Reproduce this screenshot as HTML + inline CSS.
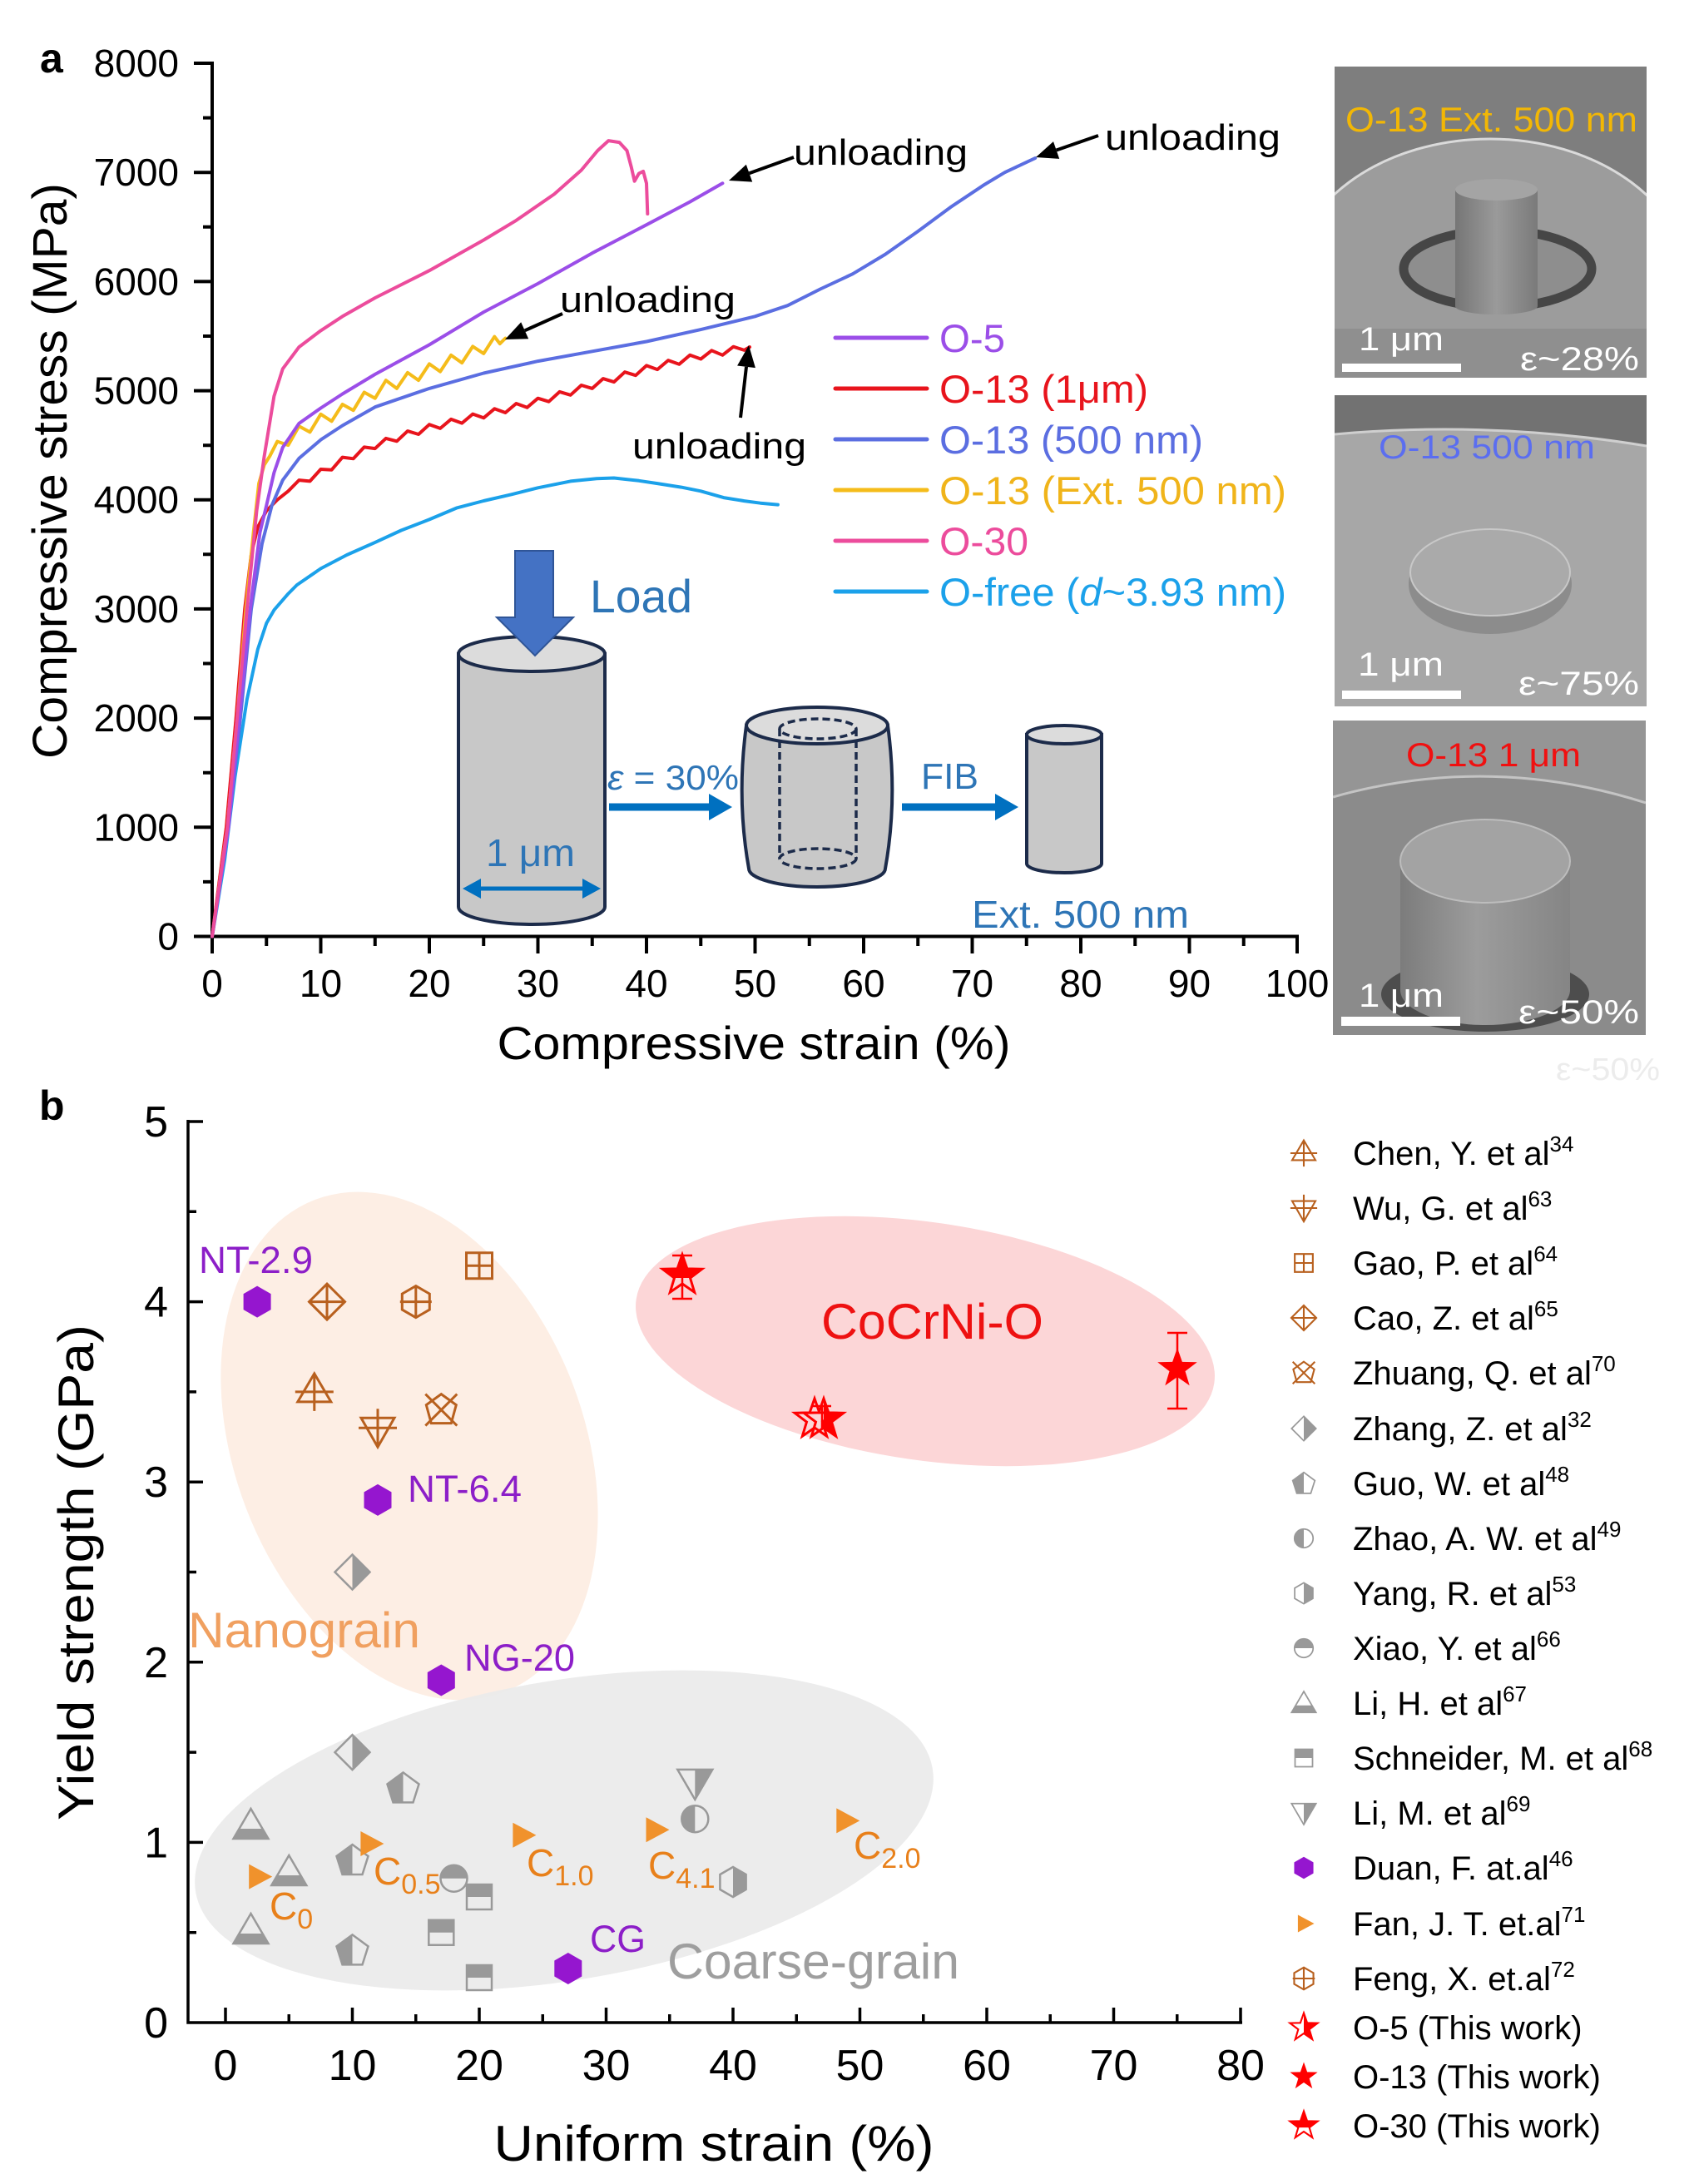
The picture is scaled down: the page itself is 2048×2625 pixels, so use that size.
<!DOCTYPE html>
<html><head><meta charset="utf-8"><style>
html,body{margin:0;padding:0;background:#fff;}
svg{display:block;}
text{font-family:"Liberation Sans",Arial,sans-serif;}
</style></head><body>
<svg xmlns="http://www.w3.org/2000/svg" width="2048" height="2625" viewBox="0 0 2048 2625">
<defs>
<g id="m-chen" fill="none" stroke="#b8601e" stroke-width="3"><path d="M0,-22L20,12L-20,12Z M0,-22V23 M-23,0H23"/></g>
<g id="m-wu" fill="none" stroke="#b8601e" stroke-width="3"><path d="M-20,-12H20L0,23Z M0,-23V23 M-23,0H23"/></g>
<g id="m-gao" fill="none" stroke="#b8601e" stroke-width="3"><path d="M-15.5,-15.5H15.5V15.5H-15.5Z M0,-15.5V15.5 M-15.5,0H15.5"/></g>
<g id="m-cao" fill="none" stroke="#b8601e" stroke-width="3"><path d="M0,-21.5L21.5,0L0,21.5L-21.5,0Z M0,-21.5V21.5 M-21.5,0H21.5"/></g>
<g id="m-feng" fill="none" stroke="#b8601e" stroke-width="3"><path d="M0,-19L16.5,-9.5V9.5L0,19L-16.5,9.5V-9.5Z M0,-19V19 M-19,0H19"/></g>
<g id="m-zhuang" fill="none" stroke="#b8601e" stroke-width="3"><path d="M0,-19L18,-6L12,16H-12L-18,-6Z M-19,-19L19,19 M19,-19L-19,19"/></g>
<path id="m-duan" d="M0,-19L16.5,-9.5V9.5L0,19L-16.5,9.5V-9.5Z" fill="#9516cf"/>
<g id="m-zhang"><path d="M0,-21L21,0L0,21Z" fill="#999"/><path d="M0,-21L21,0L0,21L-21,0Z" fill="none" stroke="#999" stroke-width="2.5"/></g>
<g id="m-guo"><path d="M0,-19L-19,-5L-12,17H0Z" fill="#999"/><path d="M0,-19L19,-5L12,17H-12L-19,-5Z" fill="none" stroke="#999" stroke-width="2.5"/></g>
<g id="m-zhao"><path d="M0,-16A16,16 0 0 0 0,16Z" fill="#999"/><circle r="16" fill="none" stroke="#999" stroke-width="2.5"/></g>
<g id="m-yang"><path d="M0,-18L15.6,-9V9L0,18Z" fill="#999"/><path d="M0,-18L15.6,-9V9L0,18L-15.6,9V-9Z" fill="none" stroke="#999" stroke-width="2.5"/></g>
<g id="m-xiao"><path d="M-16,0A16,16 0 0 1 16,0Z" fill="#999"/><circle r="16" fill="none" stroke="#999" stroke-width="2.5"/></g>
<g id="m-lih"><path d="M-14,4H14L21,16H-21Z" fill="#999"/><path d="M0,-20L21,16H-21Z" fill="none" stroke="#999" stroke-width="2.5"/></g>
<g id="m-sch"><path d="M-15,-15H15V0H-15Z" fill="#999"/><path d="M-15,-15H15V15H-15Z" fill="none" stroke="#999" stroke-width="2.5"/></g>
<g id="m-lim"><path d="M0,-16H21L0,20Z" fill="#999"/><path d="M-21,-16H21L0,20Z" fill="none" stroke="#999" stroke-width="2.5"/></g>
<path id="m-fan" d="M-13,-15L15,0L-13,15Z" fill="#f0922c"/>
<path id="starp" d="M0,-25L5.88,-8.09L23.78,-7.73L9.51,3.09L14.69,20.23L0,10L-14.69,20.23L-9.51,3.09L-23.78,-7.73L-5.88,-8.09Z"/>
<clipPath id="cliptop"><rect x="-30" y="-30" width="60" height="33"/></clipPath>
<clipPath id="clipright"><rect x="0" y="-30" width="30" height="60"/></clipPath>
<g id="m-o13"><use href="#starp" fill="#ff0000"/></g>
<g id="m-o30"><use href="#starp" fill="#ff0000" clip-path="url(#cliptop)"/><use href="#starp" fill="none" stroke="#ff0000" stroke-width="3"/></g>
<g id="m-o5"><use href="#starp" fill="#ff0000" clip-path="url(#clipright)"/><use href="#starp" fill="none" stroke="#ff0000" stroke-width="3"/></g>
<linearGradient id="pil" x1="0" x2="1" y1="0" y2="0"><stop offset="0" stop-color="#767676"/><stop offset="0.5" stop-color="#9a9a9a"/><stop offset="1" stop-color="#7a7a7a"/></linearGradient>
<linearGradient id="cyl3" x1="0" x2="1" y1="0" y2="0"><stop offset="0" stop-color="#7c7c7c"/><stop offset="0.45" stop-color="#9c9c9c"/><stop offset="1" stop-color="#858585"/></linearGradient>
<clipPath id="c1"><rect x="1604" y="80" width="375" height="374"/></clipPath>
<clipPath id="c2"><rect x="1604" y="475" width="375" height="374"/></clipPath>
<clipPath id="c3"><rect x="1602" y="866" width="376" height="378"/></clipPath>
</defs>

<!-- ================= PANEL A ================= -->
<text x="48" y="87" font-size="50" font-weight="bold">a</text>

<!-- axes -->
<g stroke="#000" stroke-width="4" fill="none">
<path d="M255,74V1127.5 M253,1125.5H1561"/>
<path d="M233,1125.5H255 M233,994.3H255 M233,863.1H255 M233,731.9H255 M233,600.7H255 M233,469.6H255 M233,338.4H255 M233,207.2H255 M233,76H255"/>
<path d="M244,1059.9H255 M244,928.7H255 M244,797.5H255 M244,666.3H255 M244,535.2H255 M244,404H255 M244,272.8H255 M244,141.6H255"/>
<path d="M255,1125.5V1146 M385.5,1125.5V1146 M516,1125.5V1146 M646.5,1125.5V1146 M777,1125.5V1146 M907.5,1125.5V1146 M1038,1125.5V1146 M1168.5,1125.5V1146 M1299,1125.5V1146 M1429.5,1125.5V1146 M1559,1125.5V1146"/>
<path d="M320.25,1125.5V1137 M450.75,1125.5V1137 M581.25,1125.5V1137 M711.75,1125.5V1137 M842.25,1125.5V1137 M972.75,1125.5V1137 M1103.25,1125.5V1137 M1233.75,1125.5V1137 M1364.25,1125.5V1137 M1494.75,1125.5V1137"/>
</g>
<g font-size="46" text-anchor="end">
<text x="215" y="1141.5">0</text>
<text x="215" y="1010.3">1000</text>
<text x="215" y="879.1">2000</text>
<text x="215" y="747.9">3000</text>
<text x="215" y="616.7">4000</text>
<text x="215" y="485.6">5000</text>
<text x="215" y="354.4">6000</text>
<text x="215" y="223.2">7000</text>
<text x="215" y="92">8000</text>
</g>
<g font-size="46" text-anchor="middle">
<text x="255" y="1198">0</text>
<text x="385.5" y="1198">10</text>
<text x="516" y="1198">20</text>
<text x="646.5" y="1198">30</text>
<text x="777" y="1198">40</text>
<text x="907.5" y="1198">50</text>
<text x="1038" y="1198">60</text>
<text x="1168.5" y="1198">70</text>
<text x="1299" y="1198">80</text>
<text x="1429.5" y="1198">90</text>
<text x="1559" y="1198">100</text>
</g>
<text x="906" y="1273" font-size="56" text-anchor="middle" textLength="617" lengthAdjust="spacingAndGlyphs">Compressive strain (%)</text>
<text transform="translate(80,566) rotate(-90)" font-size="58" text-anchor="middle" textLength="692" lengthAdjust="spacingAndGlyphs">Compressive stress (MPa)</text>

<!-- schematic inset -->
<g>
<path d="M551,786V1090A88,21 0 0 0 727,1090V786Z" fill="#c8c8c8" stroke="#1c2b4a" stroke-width="4"/>
<ellipse cx="639" cy="786" rx="88" ry="21" fill="#dcdcdc" stroke="#1c2b4a" stroke-width="4"/>
<path d="M619,662H665V742H689L643,788L597,742H619Z" fill="#4472c4" stroke="#2f5597" stroke-width="2"/>
<text x="709" y="736" font-size="56" fill="#2e75b6" textLength="123" lengthAdjust="spacingAndGlyphs">Load</text>
<text x="584" y="1041" font-size="46" fill="#2e75b6" textLength="107" lengthAdjust="spacingAndGlyphs">1 μm</text>
<path d="M575,1068H703" stroke="#0070c0" stroke-width="5"/>
<path d="M556,1068L578,1056V1080Z M722,1068L700,1056V1080Z" fill="#0070c0"/>
<text x="730" y="949" font-size="42" fill="#2e75b6" textLength="158" lengthAdjust="spacingAndGlyphs"><tspan font-style="italic">ε</tspan> = 30%</text>
<path d="M732,970H855" stroke="#0070c0" stroke-width="9"/>
<path d="M880,970L852,954V986Z" fill="#0070c0"/>
<path d="M897,872Q885,960 900,1044A82,22 0 0 0 1064,1044Q1079,960 1067,872Z" fill="#c8c8c8" stroke="#1c2b4a" stroke-width="4"/>
<ellipse cx="982" cy="872" rx="85" ry="22" fill="#dcdcdc" stroke="#1c2b4a" stroke-width="4"/>
<g fill="none" stroke="#1c2b4a" stroke-width="3.5" stroke-dasharray="9 5">
<ellipse cx="983" cy="876" rx="46" ry="12"/>
<ellipse cx="983" cy="1032" rx="46" ry="12"/>
<path d="M937,876V1032 M1029,876V1032"/>
</g>
<text x="1107" y="948" font-size="44" fill="#2e75b6" textLength="69" lengthAdjust="spacingAndGlyphs">FIB</text>
<path d="M1084,970H1199" stroke="#0070c0" stroke-width="9"/>
<path d="M1224,970L1196,954V986Z" fill="#0070c0"/>
<path d="M1234,883V1038A45,11 0 0 0 1324,1038V883Z" fill="#c8c8c8" stroke="#1c2b4a" stroke-width="4"/>
<ellipse cx="1279" cy="883" rx="45" ry="11" fill="#dcdcdc" stroke="#1c2b4a" stroke-width="4"/>
<text x="1168" y="1115" font-size="46" fill="#2e75b6" textLength="261" lengthAdjust="spacingAndGlyphs">Ext. 500 nm</text>
</g>

<!-- curves -->
<g fill="none" stroke-width="4" stroke-linejoin="round" stroke-linecap="round">
<polyline stroke="#1ba1ea" points="255,1125.5 270,1033.7 282.4,934 296.8,840.8 309.8,780.5 320.3,749 329.4,733.2 346.4,713.6 356.8,703.1 385.5,683.4 416.8,667 450.8,651.9 482.1,637.5 516,624.4 548.6,610.6 581.3,602 615.2,594.2 646.5,586.3 685.7,578.4 717,575.2 737.9,574.5 767.9,577.8 790.1,581.1 818.8,585.6 842.3,590.3 869.7,598.1 894.5,602.1 914,604.7 934.9,606.6"/>
<polyline stroke="#e8141c" points="255,1125.5 272,994.3 283.7,863.1 294.2,731.9 302,666.3 309.8,633.5 320.3,613.9 333.3,600.7 346.4,590.3 359.4,577.1 372.5,578.4 385.5,564 398.6,564.7 411.6,549.6 424.7,551.3 437.7,537.4 450.8,539.1 463.8,526.9 476.9,530.3 489.9,518.1 503,522 516,510.2 529.1,514.9 542.1,503.9 555.2,508.6 568.2,497.6 581.3,502.3 594.3,491.3 607.4,496 620.4,485 633.5,489.8 646.5,478.7 659.6,482.7 672.6,470.9 685.7,474.8 698.7,463 711.8,466.9 724.8,455.1 737.9,459.1 750.9,447.2 764,451.2 777,439.4 790.1,444.1 803.1,433.1 816.2,437.8 829.2,426.8 842.3,431.5 855.3,421.3 868.4,426.8 881.4,416.7 894.5,420.9 901,417.1"/>
<polyline stroke="#f5bc1a" points="255,1125.5 273.3,994.3 285,863.1 295.5,731.9 304.6,640.1 311.1,581.1 317.6,558.8 324.2,548.3 333.3,530.6 346.4,535.1 359.4,512.2 372.5,519.4 385.5,497.8 398.6,506.3 411.6,486 424.7,493.2 437.7,471.5 450.8,478.7 463.8,457.1 476.9,466.9 489.9,447.9 503,457.1 516,437.4 529.1,446.6 542.1,426.9 555.2,436.1 568.2,416.4 581.3,424.9 594.3,404.6 600.8,413.1 607.4,406.6"/>
<polyline stroke="#5b6ee1" points="255,1125.5 274.6,994.3 288.9,863.1 302,731.9 315,653.2 326.8,607.3 339.8,577.1 359.4,550.9 385.5,528.6 411.6,511.5 450.8,489.2 516,466.9 581.3,448.5 646.5,434.1 711.8,422.3 777,410.5 842.3,396.1 907.5,380.3 946.7,367.2 985.8,347.5 1024.9,329.2 1064.1,305.6 1103.3,278 1142.4,249.1 1181.6,222.9 1207.7,207.2 1244.2,190.1"/>
<polyline stroke="#9b4ee8" points="255,1125.5 274.6,994.3 287.6,863.1 300.7,731.9 312.4,640.1 320.3,607.3 329.4,568 339.8,537.8 359.4,508.9 385.5,490.5 411.6,473.5 450.8,449.9 516,414.4 581.3,375.1 646.5,340.9 711.8,304.2 777,270.2 829.2,242.6 868.4,220.3"/>
<polyline stroke="#ec4c9c" points="255,1125.5 273.3,994.3 285,863.1 296.8,731.9 308.5,613.9 317.6,548.3 329.4,476.1 339.8,443.3 359.4,417.1 385.5,397.4 411.6,380.3 450.8,358 516,325.2 581.3,288.5 620.4,264.9 666.1,233.4 698.7,204.5 718.3,181 731.3,169.1 744.4,171.1 753.5,181 758.7,200.6 762.6,217.7 767.9,208.5 773.1,205.9 777,220.3 778.3,257"/>
</g>

<!-- unloading annotations -->
<g stroke="#000" stroke-width="4"><path d="M954,189L900.5,208.2 M1320,163L1269.6,180.5 M676,377L630.7,397.3 M890,502L897,440.8"/></g>
<g fill="#000">
<path d="M876,217L896.8,197.8L904.2,218.6Z"/>
<path d="M1245,189L1266,170.1L1273.2,190.9Z"/>
<path d="M607,408L626.2,387.3L635.2,407.3Z"/>
<path d="M900,415L907.9,442.1L886.1,439.5Z"/>
</g>
<g font-size="44">
<text x="954" y="198" textLength="209" lengthAdjust="spacingAndGlyphs">unloading</text>
<text x="1328" y="180" textLength="211" lengthAdjust="spacingAndGlyphs">unloading</text>
<text x="673" y="375" textLength="211" lengthAdjust="spacingAndGlyphs">unloading</text>
<text x="760" y="551" textLength="209" lengthAdjust="spacingAndGlyphs">unloading</text>
</g>

<!-- legend a -->
<g stroke-width="5" stroke-linecap="round">
<path d="M1004,406H1114" stroke="#9b4ee8"/>
<path d="M1004,467H1114" stroke="#e8141c"/>
<path d="M1004,528H1114" stroke="#5b6ee1"/>
<path d="M1004,589H1114" stroke="#f5bc1a"/>
<path d="M1004,650H1114" stroke="#ec4c9c"/>
<path d="M1004,711H1114" stroke="#1ba1ea"/>
</g>
<g font-size="47">
<text x="1129" y="423" fill="#9b4ee8" textLength="79" lengthAdjust="spacingAndGlyphs">O-5</text>
<text x="1129" y="484" fill="#e8141c" textLength="251" lengthAdjust="spacingAndGlyphs">O-13 (1μm)</text>
<text x="1129" y="545" fill="#5b6ee1" textLength="317" lengthAdjust="spacingAndGlyphs">O-13 (500 nm)</text>
<text x="1129" y="606" fill="#f0b41a" textLength="417" lengthAdjust="spacingAndGlyphs">O-13 (Ext. 500 nm)</text>
<text x="1129" y="667" fill="#ec4c9c" textLength="107" lengthAdjust="spacingAndGlyphs">O-30</text>
<text x="1129" y="728" fill="#1ba1ea" textLength="417" lengthAdjust="spacingAndGlyphs">O-free (<tspan font-style="italic">d</tspan>~3.93 nm)</text>
</g>

<!-- SEM images -->
<g clip-path="url(#c1)">
<rect x="1604" y="80" width="375" height="374" fill="#7e7e7e"/>
<ellipse cx="1791" cy="345" rx="240" ry="178" fill="#9c9c9c" stroke="#dadada" stroke-width="3"/>
<rect x="1604" y="395" width="375" height="60" fill="#8f8f8f"/>
<ellipse cx="1800" cy="323" rx="113" ry="46" fill="#8e8e8e" stroke="#464646" stroke-width="11"/>
<path d="M1749,228V368A49,10 0 0 0 1848,368V228Z" fill="url(#pil)"/>
<ellipse cx="1798.5" cy="228" rx="49.5" ry="13" fill="#a4a4a4"/>
</g>
<text x="1617" y="158" font-size="42" fill="#f2b705" textLength="351" lengthAdjust="spacingAndGlyphs">O-13 Ext. 500 nm</text>
<rect x="1613" y="437" width="143" height="10" fill="#fff"/>
<text x="1633" y="421" font-size="40" fill="#fff" textLength="102" lengthAdjust="spacingAndGlyphs">1 μm</text>
<text x="1827" y="445" font-size="40" fill="#fff" textLength="143" lengthAdjust="spacingAndGlyphs">ε~28%</text>

<g clip-path="url(#c2)">
<rect x="1604" y="475" width="375" height="374" fill="#a7a7a7"/>
<path d="M1604,475H1979V536Q1790,505 1604,522Z" fill="#727272"/>
<path d="M1604,522Q1790,505 1979,536" fill="none" stroke="#cfcfcf" stroke-width="3"/>
<ellipse cx="1791" cy="702" rx="98" ry="60" fill="#8c8c8c"/>
<ellipse cx="1791" cy="688" rx="96" ry="52" fill="#aaaaaa" stroke="#c8c8c8" stroke-width="2"/>
</g>
<text x="1657" y="551" font-size="40" fill="#5b6ef0" textLength="260" lengthAdjust="spacingAndGlyphs">O-13 500 nm</text>
<rect x="1613" y="830" width="143" height="10" fill="#fff"/>
<text x="1632" y="812" font-size="40" fill="#fff" textLength="103" lengthAdjust="spacingAndGlyphs">1 μm</text>
<text x="1825" y="835" font-size="40" fill="#fff" textLength="145" lengthAdjust="spacingAndGlyphs">ε~75%</text>

<g clip-path="url(#c3)">
<rect x="1602" y="866" width="376" height="378" fill="#8b8b8b"/>
<path d="M1602,866H1978V965Q1790,905 1602,958Z" fill="#959595"/>
<path d="M1602,958Q1790,905 1978,965" fill="none" stroke="#c4c4c4" stroke-width="3"/>
<ellipse cx="1785" cy="1195" rx="125" ry="45" fill="#4d4d4d"/>
<path d="M1683,1035V1190A102,42 0 0 0 1887,1190V1035Z" fill="url(#cyl3)"/>
<ellipse cx="1785" cy="1035" rx="102" ry="50" fill="#a3a3a3" stroke="#bdbdbd" stroke-width="2"/>
</g>
<text x="1690" y="921" font-size="40" fill="#f01010" textLength="210" lengthAdjust="spacingAndGlyphs">O-13 1 μm</text>
<rect x="1612" y="1222" width="143" height="11" fill="#fff"/>
<text x="1633" y="1210" font-size="40" fill="#fff" textLength="102" lengthAdjust="spacingAndGlyphs">1 μm</text>
<text x="1825" y="1230" font-size="40" fill="#fff" textLength="145" lengthAdjust="spacingAndGlyphs">ε~50%</text>
<text x="1870" y="1298" font-size="38" fill="#ececec" textLength="125" lengthAdjust="spacingAndGlyphs">ε~50%</text>

<!-- ================= PANEL B ================= -->
<text x="47" y="1346" font-size="50" font-weight="bold">b</text>

<!-- region ellipses -->
<ellipse cx="492" cy="1738" rx="210" ry="317" transform="rotate(-21 492 1738)" fill="#fdeee4"/>
<ellipse cx="678" cy="2200" rx="449" ry="180" transform="rotate(-9.5 678 2200)" fill="#ebebeb" fill-opacity="0.93"/>
<ellipse cx="1112" cy="1612" rx="351" ry="143" transform="rotate(8.25 1112 1612)" fill="#fcd6d7"/>

<!-- axes b -->
<g stroke="#000" stroke-width="3.5" fill="none">
<path d="M226,1346V2432.75 M224.25,2431H1493"/>
<path d="M226,2214.4H244 M226,1997.8H244 M226,1781.2H244 M226,1564.6H244 M226,1348H244"/>
<path d="M226,2322.7H236 M226,2106.1H236 M226,1889.5H236 M226,1672.9H236 M226,1456.3H236"/>
<path d="M271,2431V2413 M423.5,2431V2413 M576,2431V2413 M728.5,2431V2413 M881,2431V2413 M1033.5,2431V2413 M1186,2431V2413 M1338.5,2431V2413 M1491,2431V2413"/>
<path d="M347.25,2431V2421 M499.75,2431V2421 M652.25,2431V2421 M804.75,2431V2421 M957.25,2431V2421 M1109.75,2431V2421 M1262.25,2431V2421 M1414.75,2431V2421"/>
</g>
<g font-size="52" text-anchor="end">
<text x="202" y="2449">0</text>
<text x="202" y="2232.4">1</text>
<text x="202" y="2015.8">2</text>
<text x="202" y="1799.2">3</text>
<text x="202" y="1582.6">4</text>
<text x="202" y="1366">5</text>
</g>
<g font-size="52" text-anchor="middle">
<text x="271" y="2500">0</text>
<text x="423.5" y="2500">10</text>
<text x="576" y="2500">20</text>
<text x="728.5" y="2500">30</text>
<text x="881" y="2500">40</text>
<text x="1033.5" y="2500">50</text>
<text x="1186" y="2500">60</text>
<text x="1338.5" y="2500">70</text>
<text x="1491" y="2500">80</text>
</g>
<text x="858" y="2597" font-size="60" text-anchor="middle" textLength="529" lengthAdjust="spacingAndGlyphs">Uniform strain (%)</text>
<text transform="translate(112,1890) rotate(-90)" font-size="60" text-anchor="middle" textLength="596" lengthAdjust="spacingAndGlyphs">Yield strength (GPa)</text>

<!-- region labels -->
<text x="226" y="1980" font-size="60" fill="#f0a060" textLength="279" lengthAdjust="spacingAndGlyphs">Nanograin</text>
<text x="802" y="2378" font-size="60" fill="#9e9e9e" textLength="351" lengthAdjust="spacingAndGlyphs">Coarse-grain</text>
<text x="987" y="1609" font-size="60" fill="#ee1111" textLength="267" lengthAdjust="spacingAndGlyphs">CoCrNi-O</text>
<g font-size="45" fill="#8c1ec8">
<text x="239" y="1530" textLength="137" lengthAdjust="spacingAndGlyphs">NT-2.9</text>
<text x="490" y="1805" textLength="137" lengthAdjust="spacingAndGlyphs">NT-6.4</text>
<text x="558" y="2008" textLength="133" lengthAdjust="spacingAndGlyphs">NG-20</text>
<text x="709" y="2346" textLength="67" lengthAdjust="spacingAndGlyphs">CG</text>
</g>
<g font-size="46" fill="#e8801a">
<text x="324" y="2307">C<tspan font-size="34" dy="11">0</tspan></text>
<text x="449" y="2265">C<tspan font-size="34" dy="11">0.5</tspan></text>
<text x="633" y="2255">C<tspan font-size="34" dy="11">1.0</tspan></text>
<text x="779" y="2258">C<tspan font-size="34" dy="11">4.1</tspan></text>
<text x="1026" y="2234">C<tspan font-size="34" dy="11">2.0</tspan></text>
</g>

<!-- markers -->
<use href="#m-chen" x="377.8" y="1672.9"/>
<use href="#m-wu" x="454" y="1716.2"/>
<use href="#m-gao" x="576" y="1521.3"/>
<use href="#m-cao" x="393" y="1564.6"/>
<use href="#m-feng" x="499.8" y="1564.6"/>
<use href="#m-zhuang" x="530.3" y="1694.6"/>
<use href="#m-zhang" x="423.5" y="1889.5"/>
<use href="#m-zhang" x="423.5" y="2106.1"/>
<use href="#m-guo" x="484.5" y="2149.4"/>
<use href="#m-guo" x="423.5" y="2236"/>
<use href="#m-guo" x="423.5" y="2344.4"/>
<use href="#m-zhao" x="835.3" y="2186.2"/>
<use href="#m-yang" x="881" y="2262"/>
<use href="#m-xiao" x="545.5" y="2257.7"/>
<use href="#m-lih" x="301.5" y="2194"/>
<use href="#m-lih" x="347.3" y="2250"/>
<use href="#m-lih" x="301.5" y="2320"/>
<use href="#m-sch" x="576" y="2280"/>
<use href="#m-sch" x="530.3" y="2322.7"/>
<use href="#m-sch" x="576" y="2377"/>
<use href="#m-lim" x="835.3" y="2142.9"/>
<use href="#m-fan" x="312.2" y="2255.6"/>
<use href="#m-fan" x="446.4" y="2216"/>
<use href="#m-fan" x="629.4" y="2205.7"/>
<use href="#m-fan" x="789.5" y="2199.2"/>
<use href="#m-fan" x="1018.3" y="2188.4"/>
<use href="#m-duan" x="309.1" y="1564.6"/>
<use href="#m-duan" x="454" y="1802.9"/>
<use href="#m-duan" x="530.3" y="2019.5"/>
<use href="#m-duan" x="682.8" y="2366"/>

<!-- stars with error bars -->
<g stroke="#ff0000" stroke-width="2.5" fill="none">
<path d="M820,1509V1561 M808,1509H832 M808,1561H832"/>
<path d="M1415,1602V1693 M1403,1602H1427 M1403,1693H1427"/>
<path d="M988,1690V1718 M977,1690H999"/>
</g>
<use href="#m-o30" x="820" y="1533"/>
<use href="#m-o13" x="1415" y="1645"/>
<g transform="translate(979,1706)"><use href="#starp" fill="none" stroke="#ff0000" stroke-width="3"/></g>
<use href="#m-o5" x="990" y="1706"/>

<!-- legend b -->
<use href="#m-chen" transform="translate(1567,1386) scale(0.7)"/>
<use href="#m-wu" transform="translate(1567,1452) scale(0.7)"/>
<use href="#m-gao" transform="translate(1567,1518) scale(0.7)"/>
<use href="#m-cao" transform="translate(1567,1584) scale(0.7)"/>
<use href="#m-zhuang" transform="translate(1567,1650) scale(0.7)"/>
<use href="#m-zhang" transform="translate(1567,1717) scale(0.7)"/>
<use href="#m-guo" transform="translate(1567,1783) scale(0.7)"/>
<use href="#m-zhao" transform="translate(1567,1849) scale(0.7)"/>
<use href="#m-yang" transform="translate(1567,1915) scale(0.7)"/>
<use href="#m-xiao" transform="translate(1567,1981) scale(0.7)"/>
<use href="#m-lih" transform="translate(1567,2047) scale(0.7)"/>
<use href="#m-sch" transform="translate(1567,2113) scale(0.7)"/>
<use href="#m-lim" transform="translate(1567,2179) scale(0.7)"/>
<use href="#m-duan" transform="translate(1567,2245) scale(0.7)"/>
<use href="#m-fan" transform="translate(1569,2312) scale(0.7)"/>
<use href="#m-feng" transform="translate(1567,2378) scale(0.7)"/>
<use href="#m-o5" transform="translate(1567,2437) scale(0.7)"/>
<use href="#m-o13" transform="translate(1567,2496) scale(0.7)"/>
<use href="#m-o30" transform="translate(1567,2555) scale(0.7)"/>
<g font-size="40">
<text x="1626" y="1400">Chen, Y. et al<tspan font-size="26" dy="-16">34</tspan></text>
<text x="1626" y="1466">Wu, G. et al<tspan font-size="26" dy="-16">63</tspan></text>
<text x="1626" y="1532">Gao, P. et al<tspan font-size="26" dy="-16">64</tspan></text>
<text x="1626" y="1598">Cao, Z. et al<tspan font-size="26" dy="-16">65</tspan></text>
<text x="1626" y="1664">Zhuang, Q. et al<tspan font-size="26" dy="-16">70</tspan></text>
<text x="1626" y="1731">Zhang, Z. et al<tspan font-size="26" dy="-16">32</tspan></text>
<text x="1626" y="1797">Guo, W. et al<tspan font-size="26" dy="-16">48</tspan></text>
<text x="1626" y="1863">Zhao, A. W. et al<tspan font-size="26" dy="-16">49</tspan></text>
<text x="1626" y="1929">Yang, R. et al<tspan font-size="26" dy="-16">53</tspan></text>
<text x="1626" y="1995">Xiao, Y. et al<tspan font-size="26" dy="-16">66</tspan></text>
<text x="1626" y="2061">Li, H. et al<tspan font-size="26" dy="-16">67</tspan></text>
<text x="1626" y="2127">Schneider, M. et al<tspan font-size="26" dy="-16">68</tspan></text>
<text x="1626" y="2193">Li, M. et al<tspan font-size="26" dy="-16">69</tspan></text>
<text x="1626" y="2259">Duan, F. at.al<tspan font-size="26" dy="-16">46</tspan></text>
<text x="1626" y="2326">Fan, J. T. et.al<tspan font-size="26" dy="-16">71</tspan></text>
<text x="1626" y="2392">Feng, X. et.al<tspan font-size="26" dy="-16">72</tspan></text>
<text x="1626" y="2451">O-5 (This work)</text>
<text x="1626" y="2510">O-13 (This work)</text>
<text x="1626" y="2569">O-30 (This work)</text>
</g>
</svg>
</body></html>
